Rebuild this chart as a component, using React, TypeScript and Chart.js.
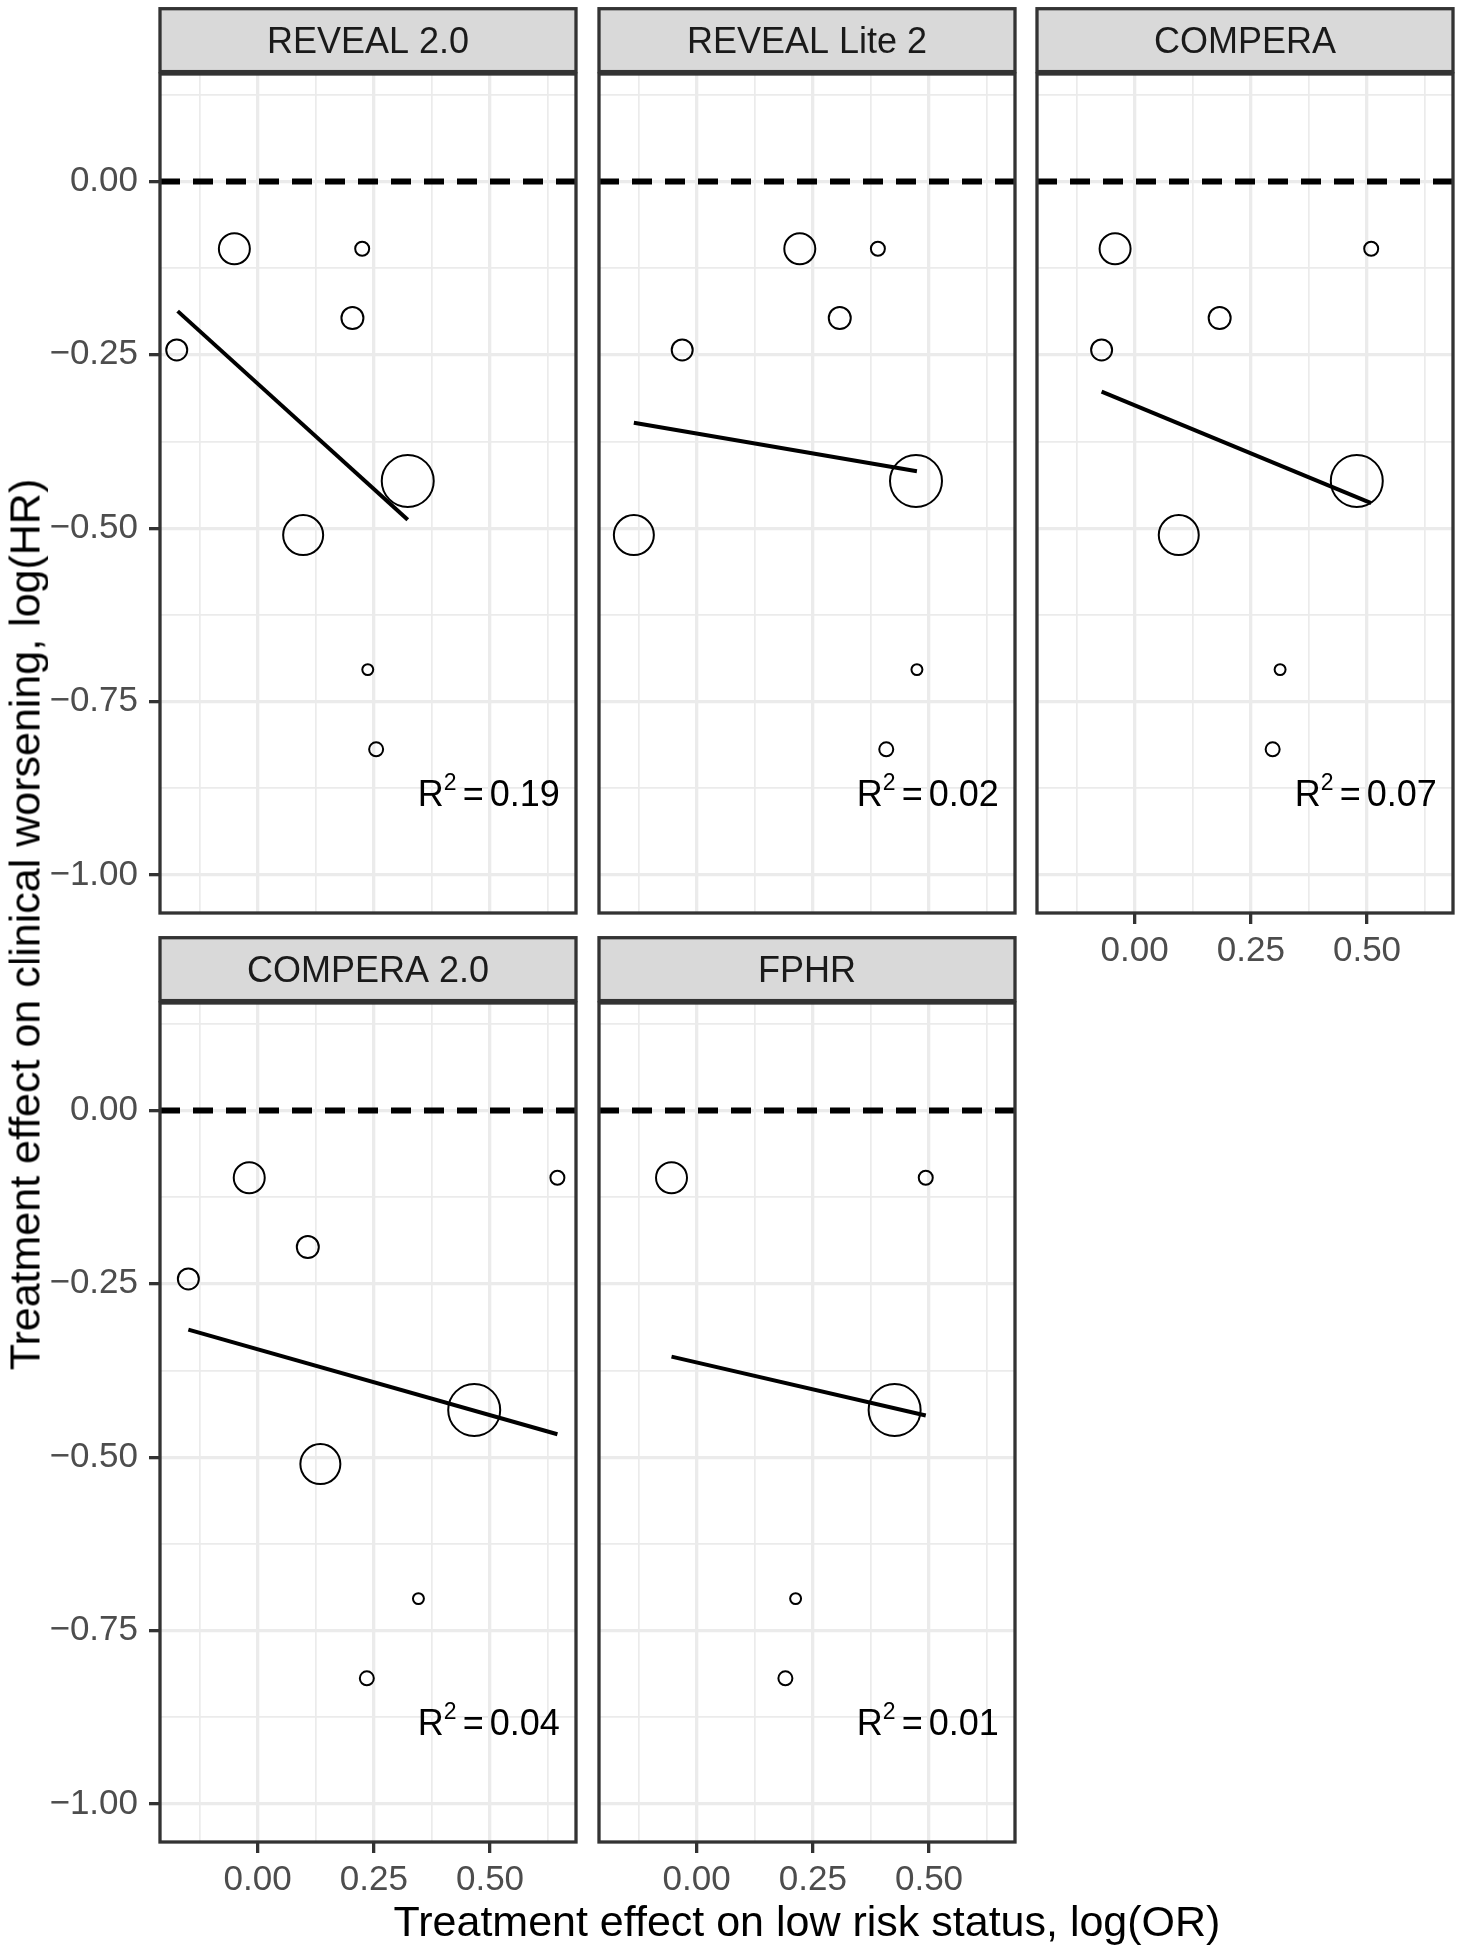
import React, { useEffect, useRef } from "react";
import { Chart, registerables } from "chart.js";

Chart.register(...registerables);

const FONT = '"Liberation Sans", Arial, Helvetica, sans-serif';

// ---------------- data ----------------
const panelTitles = ["REVEAL 2.0", "REVEAL Lite 2", "COMPERA", "COMPERA 2.0", "FPHR"];
const r2Values = ["0.19", "0.02", "0.07", "0.04", "0.01"];

// treatment effect on clinical worsening, log(HR) – one value per trial (shared by all panels)
const logHR = [-0.097, -0.097, -0.197, -0.243, -0.432, -0.51, -0.704, -0.819];
// relative trial weight (bubble area)
const trialWeight = [240, 49, 121, 110, 676, 400, 30, 49];

// treatment effect on low risk status, log(OR) – per risk score
const logOR_REVEAL20 = [-0.05, 0.225, 0.204, -0.174, 0.323, 0.098, 0.237, 0.255];
const logOR_REVEALLite2 = [0.222, 0.39, 0.308, -0.031, 0.472, -0.135, 0.474, 0.408];
const logOR_COMPERA = [-0.042, 0.509, 0.183, -0.071, 0.478, 0.095, 0.313, 0.297];
const logOR_COMPERA20 = [-0.018, 0.645, 0.108, -0.149, 0.466, 0.135, 0.346, 0.235];
const logOR_FPHR: (number | null)[] = [-0.054, 0.493, null, null, 0.426, null, 0.213, 0.191];

// fitted (weighted) regression line end points per panel
const fitStartX = [-0.172, -0.135, -0.071, -0.149, -0.054];
const fitEndX = [0.323, 0.474, 0.509, 0.645, 0.493];
const fitStartY = [-0.187, -0.348, -0.303, -0.316, -0.355];
const fitEndY = [-0.488, -0.418, -0.464, -0.467, -0.44];

const xTickValues = [-0.125, 0, 0.125, 0.25, 0.375, 0.5, 0.625];
const yTickValues = [0.125, 0, -0.125, -0.25, -0.375, -0.5, -0.625, -0.75, -0.875, -1];

const X_MIN = -0.21;
const X_MAX = 0.685;
const Y_MIN = -1.055;
const Y_MAX = 0.155;
const R2_X = 0.65;
const R2_Y = -0.9;

const orSeries: (number | null)[][] = [
  logOR_REVEAL20,
  logOR_REVEALLite2,
  logOR_COMPERA,
  logOR_COMPERA20,
  logOR_FPHR,
];

// ---------------- layout ----------------
const PLOT_W = 416;
const PLOT_H = 839;
const PAD_LEFT = 150;
const PAD_TOP = 74;
const PAD_RIGHT = 10;
const PAD_BOTTOM = 80;
const colLeft = [160, 599, 1037];
const rowTop = [74, 1003];

const panels = [
  { col: 0, row: 0, showX: false, showY: true },
  { col: 1, row: 0, showX: false, showY: false },
  { col: 2, row: 0, showX: true, showY: false },
  { col: 0, row: 1, showX: true, showY: true },
  { col: 1, row: 1, showX: true, showY: false },
];

const isMajor = (v: number | undefined) =>
  v !== undefined && Math.abs(v * 4 - Math.round(v * 4)) < 1e-9;
const fmt = (v: number) => (v < 0 ? "\u2212" + Math.abs(v).toFixed(2) : v.toFixed(2));

const BORDER = "#333333";
const LW = 3.3;

function Panel({ index, col, row, showX, showY }: any) {
  const ref = useRef<HTMLCanvasElement>(null);
  const cw = PAD_LEFT + PLOT_W + PAD_RIGHT;
  const ch = PAD_TOP + PLOT_H + PAD_BOTTOM;

  useEffect(() => {
    const canvas = ref.current!;
    const xs = orSeries[index];
    const pts: { x: number; y: number }[] = [];
    const radii: number[] = [];
    xs.forEach((x, k) => {
      if (x !== null) {
        pts.push({ x, y: logHR[k] });
        radii.push(Math.sqrt(trialWeight[k]));
      }
    });

    const decor = {
      id: "decor",
      afterDatasetsDraw(chart: any) {
        const { ctx, chartArea: a, scales } = chart;
        const w = a.right - a.left;
        ctx.save();
        // R^2 annotation
        const px = scales.x.getPixelForValue(R2_X);
        const py = scales.y.getPixelForValue(R2_Y);
        ctx.fillStyle = "#000";
        ctx.textBaseline = "alphabetic";
        ctx.textAlign = "left";
        const big = `36px ${FONT}`;
        const small = `23px ${FONT}`;
        ctx.font = big;
        const wR = ctx.measureText("R").width;
        const wEq = ctx.measureText("=").width;
        const wVal = ctx.measureText(r2Values[index]).width;
        ctx.font = small;
        const w2 = ctx.measureText("2").width;
        const gap = 6;
        let cx = px - (wR + w2 + gap + wEq + gap + wVal);
        ctx.font = big;
        ctx.fillText("R", cx, py);
        cx += wR;
        ctx.font = small;
        ctx.fillText("2", cx, py - 16);
        cx += w2 + gap;
        ctx.font = big;
        ctx.fillText("=", cx, py);
        cx += wEq + gap;
        ctx.fillText(r2Values[index], cx, py);

        // panel border
        ctx.strokeStyle = BORDER;
        ctx.lineWidth = LW;
        ctx.strokeRect(a.left, a.top, w, a.bottom - a.top);
        // strip
        const sTop = a.top - 65.3;
        const sBot = a.top - 2.4;
        ctx.fillStyle = "#D9D9D9";
        ctx.fillRect(a.left, sTop, w, sBot - sTop);
        ctx.strokeRect(a.left, sTop, w, sBot - sTop);
        ctx.fillStyle = "#1A1A1A";
        ctx.font = `36px ${FONT}`;
        ctx.textAlign = "center";
        ctx.fillText(panelTitles[index], a.left + w / 2, a.top - 21.3);
        ctx.restore();
      },
    };

    const chart = new Chart(canvas, {
      type: "scatter",
      data: {
        datasets: [
          {
            data: pts,
            pointRadius: radii,
            pointHoverRadius: radii,
            pointStyle: "circle",
            borderColor: "#000",
            backgroundColor: "rgba(0,0,0,0)",
            borderWidth: 2,
            showLine: false,
            order: 1,
          } as any,
          {
            data: [
              { x: fitStartX[index], y: fitStartY[index] },
              { x: fitEndX[index], y: fitEndY[index] },
            ],
            showLine: true,
            borderColor: "#000",
            borderWidth: 4,
            pointRadius: 0,
            order: 2,
          },
          {
            data: [
              { x: X_MIN, y: 0 },
              { x: X_MAX, y: 0 },
            ],
            showLine: true,
            borderColor: "#000",
            borderWidth: 6,
            borderDash: [20, 13],
            pointRadius: 0,
            order: 3,
          },
        ],
      },
      options: {
        animation: false,
        responsive: false,
        maintainAspectRatio: false,
        events: [],
        layout: {
          autoPadding: false,
          padding: { top: PAD_TOP, left: 0, right: PAD_RIGHT, bottom: 0 },
        },
        plugins: {
          legend: { display: false },
          tooltip: { enabled: false },
          title: { display: false },
        },
        scales: {
          x: {
            type: "linear",
            min: X_MIN,
            max: X_MAX,
            afterBuildTicks: (s: any) => {
              s.ticks = xTickValues.map((v) => ({ value: v }));
            },
            afterFit: (s: any) => {
              s.height = PAD_BOTTOM;
              s.paddingLeft = 0;
              s.paddingRight = 0;
              s.paddingTop = 0;
              s.paddingBottom = 0;
            },
            border: { display: false },
            grid: {
              color: "#EBEBEB",
              lineWidth: (c: any) => (isMajor(c.tick?.value) ? LW : 1.7),
              drawTicks: true,
              tickLength: 11,
              tickWidth: LW,
              tickColor: (c: any) =>
                showX && isMajor(c.tick?.value) ? BORDER : "rgba(0,0,0,0)",
            },
            ticks: {
              display: showX,
              autoSkip: false,
              maxRotation: 0,
              minRotation: 0,
              padding: 6,
              color: "#4D4D4D",
              font: { size: 35, family: FONT },
              callback: (v: any) => (isMajor(v) ? fmt(v) : ""),
            },
          },
          y: {
            type: "linear",
            min: Y_MIN,
            max: Y_MAX,
            afterBuildTicks: (s: any) => {
              s.ticks = yTickValues.map((v) => ({ value: v }));
            },
            afterFit: (s: any) => {
              s.width = PAD_LEFT;
              s.paddingLeft = 0;
              s.paddingRight = 0;
              s.paddingTop = 0;
              s.paddingBottom = 0;
            },
            border: { display: false },
            grid: {
              color: "#EBEBEB",
              lineWidth: (c: any) => (isMajor(c.tick?.value) ? LW : 1.7),
              drawTicks: true,
              tickLength: 11,
              tickWidth: LW,
              tickColor: (c: any) =>
                showY && isMajor(c.tick?.value) ? BORDER : "rgba(0,0,0,0)",
            },
            ticks: {
              display: showY,
              autoSkip: false,
              padding: 11,
              color: "#4D4D4D",
              font: { size: 35, family: FONT },
              callback: (v: any) => (isMajor(v) ? fmt(v) : ""),
            },
          },
        },
      } as any,
      plugins: [decor],
    });
    return () => chart.destroy();
  }, []);

  return (
    <canvas
      ref={ref}
      width={cw}
      height={ch}
      style={{
        position: "absolute",
        left: colLeft[col] - PAD_LEFT,
        top: rowTop[row] - PAD_TOP,
        width: cw,
        height: ch,
        display: "block",
      }}
    />
  );
}

export default function App() {
  return (
    <div
      style={{
        position: "absolute",
        left: 0,
        top: 0,
        width: 1463,
        height: 1950,
        background: "#fff",
        overflow: "hidden",
        fontFamily: FONT,
      }}
    >
      {panels.map((p, i) => (
        <Panel key={i} index={i} {...p} />
      ))}
      <div
        style={{
          position: "absolute",
          left: 160,
          width: 1294,
          top: 1900,
          textAlign: "center",
          fontSize: 43,
          lineHeight: "43px",
          color: "#000",
          whiteSpace: "nowrap",
        }}
      >
        Treatment effect on low risk status, log(OR)
      </div>
      <div
        style={{
          position: "absolute",
          left: 25 - 550,
          top: 924 - 21.5,
          width: 1100,
          height: 43,
          textAlign: "center",
          fontSize: 43,
          lineHeight: "43px",
          color: "#000",
          whiteSpace: "nowrap",
          transform: "rotate(-90deg)",
          transformOrigin: "50% 50%",
        }}
      >
        Treatment effect on clinical worsening, log(HR)
      </div>
    </div>
  );
}
